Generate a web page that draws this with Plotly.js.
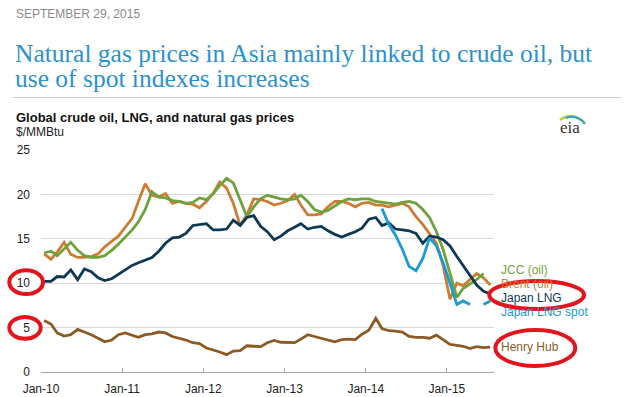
<!DOCTYPE html>
<html>
<head>
<meta charset="utf-8">
<script src="https://cdn.plot.ly/plotly-3.0.1.min.js"></script>
<style>
html,body{margin:0;padding:0;background:#fff;}
#chart{width:628px;height:397px;}
</style>
</head>
<body>
<div id="chart"></div>
<script>
// ---- data (monthly, Jan 2010 - Jul 2015), $/MMBtu ----
const startYear = 2010, monthCount = 67;
const tickVals = ['2010-01-01','2011-01-01','2012-01-01','2013-01-01','2014-01-01','2015-01-01'];
const tickText = ['Jan-10','Jan-11','Jan-12','Jan-13','Jan-14','Jan-15'];

const jcc = [13.4,13.6,13.1,13.9,14.6,13.7,13.1,12.9,12.9,13.1,13.7,14.4,
             15.2,16.0,16.9,18.3,20.3,19.7,19.6,19.3,19.2,19.0,19.1,19.6,
             19.4,20.1,21.0,21.8,21.3,19.3,17.5,18.6,19.5,19.9,19.7,19.5,
             19.4,19.5,19.9,19.2,18.3,18.0,18.2,18.7,19.2,19.5,19.4,19.5,
             19.5,19.2,19.1,19.0,18.9,19.1,19.2,19.0,18.3,17.4,15.8,13.8,
             11.1,8.4,9.4,9.9,10.4,11.1,null];
const brent = [13.3,12.7,13.5,14.6,13.25,12.9,12.9,13.0,13.3,14.1,14.7,15.3,
               16.3,17.3,19.2,21.2,19.9,19.7,20.1,19.0,19.2,19.0,18.9,18.5,
               19.2,20.1,21.4,20.7,19.0,16.5,17.7,19.5,19.4,19.2,18.8,19.0,
               19.3,20.0,18.8,17.7,17.7,17.8,18.6,19.2,19.2,19.0,18.6,19.0,
               19.1,18.8,18.8,18.6,18.8,19.0,18.6,17.5,16.6,15.6,14.5,12.0,
               8.2,10.0,9.7,10.4,11.1,10.6,9.8];
const japanLng = [10.2,10.2,10.75,10.7,11.5,10.4,11.6,11.3,10.6,10.3,10.5,11.0,
                  11.5,12.0,12.3,12.6,12.9,13.6,14.5,15.1,15.2,15.6,16.5,16.6,
                  16.7,16.0,16.0,16.1,17.1,16.5,17.4,17.6,16.4,15.8,14.9,15.3,
                  15.9,16.3,16.7,16.1,16.3,16.4,15.9,15.5,15.2,15.5,15.8,16.2,
                  17.2,17.4,16.5,16.8,16.1,16.0,15.9,15.6,14.5,15.3,15.2,14.9,
                  14.2,13.0,12.0,11.0,9.8,9.1,8.8];
const japanLngSpot = [null,null,null,null,null,null,null,null,null,null,null,null,
                      null,null,null,null,null,null,null,null,null,null,null,null,
                      null,null,null,null,null,null,null,null,null,null,null,null,
                      null,null,null,null,null,null,null,null,null,null,null,null,
                      null,null,18.4,16.6,15.4,13.8,11.9,11.4,12.8,15.1,14.2,12.3,
                      10.0,7.6,8.0,7.6,null,7.6,8.0];
const henryHub = [5.8,5.4,4.4,4.05,4.2,4.8,4.5,4.2,3.8,3.4,3.6,4.2,
                  4.4,4.1,3.9,4.2,4.3,4.5,4.4,4.0,3.8,3.6,3.3,3.2,
                  2.7,2.5,2.25,1.95,2.35,2.4,2.95,2.9,2.85,3.3,3.55,3.35,
                  3.3,3.3,3.7,4.2,4.0,3.8,3.65,3.4,3.65,3.7,3.65,4.25,
                  4.7,6.05,4.9,4.65,4.6,4.5,4.0,3.9,3.9,3.8,4.15,3.65,
                  3.1,3.0,2.9,2.65,2.85,2.75,2.8];

const seriesNames = ['JCC (oil)','Brent (oil)','Japan LNG','Japan LNG spot','Henry Hub'];
const seriesColors = ['#6fa13c','#cd7c34','#0e3955','#1c9ad6','#8c5a25'];

// month positions (middle of each month)
const months = [];
for (let i = 0; i < monthCount; i++) {
  const y = startYear + Math.floor(i / 12), m = (i % 12) + 1;
  months.push(y + '-' + String(m).padStart(2, '0') + '-15');
}

// ---- layout geometry ----
const W = 628, H = 397, L = 41, R = 134, T = 150, B = 25;
const PW = W - L - R, PH = H - T - B;
const px = x => (x - L) / PW;
const py = y => (H - B - y) / PH;

function line(name, ys, color) {
  return {x: months, y: ys, type: 'scatter', mode: 'lines', name: name,
          line: {color: color, width: 2.8}, connectgaps: false, hoverinfo: 'skip'};
}
const traces = [
  line(seriesNames[4], henryHub, seriesColors[4]),
  line(seriesNames[1], brent, seriesColors[1]),
  line(seriesNames[0], jcc, seriesColors[0]),
  line(seriesNames[2], japanLng, seriesColors[2]),
  line(seriesNames[3], japanLngSpot, seriesColors[3])
];

const sans = '"Liberation Sans", Arial, sans-serif';
const serif = '"Liberation Serif", "Times New Roman", serif';
const titleColor = '#2c91cf';
const titleLines = ['Natural gas prices in Asia mainly linked to crude oil, but',
                    'use of spot indexes increases'];

function txt(text, x, y, size, color, opts) {
  return Object.assign({text: text, x: px(x), y: py(y), xref: 'paper', yref: 'paper',
    xanchor: 'left', yanchor: 'middle', showarrow: false,
    font: {family: sans, size: size, color: color}}, opts || {});
}

// title: one text block, line pitch set by the base font size, glyphs enlarged by span style
const bigTitle = titleLines.map(s => '<span style="font-size:25.5px">' + s + '</span>').join('<br>');

const annotations = [
  txt('SEPTEMBER 29, 2015', 14, 13.5, 12, '#8a8a8a'),
  txt(bigTitle, 13, 66, 19.5, titleColor, {align: 'left', font: {family: serif, size: 19.5, color: titleColor}}),
  txt('<b>Global crude oil, LNG, and natural gas prices</b>', 14, 117, 13, '#111'),
  txt('$/MMBtu', 14, 132, 12, '#222'),
  txt('eia', 570, 128, 17, '#333', {xanchor: 'center', font: {family: serif, size: 17, color: '#333'}}),
  txt(seriesNames[0], 499, 269.5, 12, seriesColors[0]),
  txt(seriesNames[1], 499, 284, 12, seriesColors[1]),
  txt(seriesNames[2], 499, 298, 12, seriesColors[2]),
  txt(seriesNames[3], 499, 312, 12, seriesColors[3]),
  txt(seriesNames[4], 499, 347, 12, seriesColors[4])
];

const red = '#e2141c';
function ellipse(x0, x1, y0, y1) {
  return {type: 'circle', xref: 'paper', yref: 'paper', x0: px(x0), x1: px(x1),
          y0: py(y1), y1: py(y0), line: {color: red, width: 4}, layer: 'above'};
}
const shapes = [
  {type: 'line', xref: 'paper', yref: 'paper', x0: px(13), x1: px(621), y0: py(97.5), y1: py(97.5),
   line: {color: '#cfcfcf', width: 1}},
  {type: 'path', xref: 'paper', yref: 'paper',
   path: 'M ' + px(560) + ' ' + py(120) + ' Q ' + px(572) + ' ' + py(111) + ' ' + px(585) + ' ' + py(123),
   line: {color: '#b9d24a', width: 2.5}},
  {type: 'path', xref: 'paper', yref: 'paper',
   path: 'M ' + px(566) + ' ' + py(118) + ' Q ' + px(577) + ' ' + py(114) + ' ' + px(585) + ' ' + py(124),
   line: {color: '#2a9fd6', width: 2}},
  ellipse(9.3, 43, 270.3, 294),
  ellipse(9.3, 40.7, 317, 338.7),
  ellipse(489.3, 584, 281, 309),
  ellipse(495.3, 575.3, 330, 366)
];

const layout = {
  width: W, height: H,
  margin: {l: L, r: R, t: T, b: B, pad: 0},
  paper_bgcolor: '#fff', plot_bgcolor: '#fff',
  showlegend: false,
  font: {family: sans, size: 12, color: '#222'},
  xaxis: {
    type: 'date', range: ['2010-01-01', '2015-08-01'],
    tickvals: tickVals, ticktext: tickText,
    showgrid: false, zeroline: false,
    showline: true, linecolor: '#a6a6a6', linewidth: 1,
    ticks: 'inside', ticklen: 4, tickcolor: '#a6a6a6', tickwidth: 1,
    ticklabelstandoff: 6,
    tickfont: {family: sans, size: 12, color: '#222'},
    fixedrange: true
  },
  yaxis: {
    range: [0, 25], tickvals: [0, 5, 10, 15, 20, 25],
    showgrid: true, gridcolor: '#d9d9d9', gridwidth: 1,
    zeroline: false, showline: false, ticks: '',
    ticklabelstandoff: 10,
    tickfont: {family: sans, size: 12, color: '#222'},
    fixedrange: true
  },
  annotations: annotations,
  shapes: shapes
};

Plotly.newPlot('chart', traces, layout, {displayModeBar: false, staticPlot: true});
</script>
</body>
</html>
